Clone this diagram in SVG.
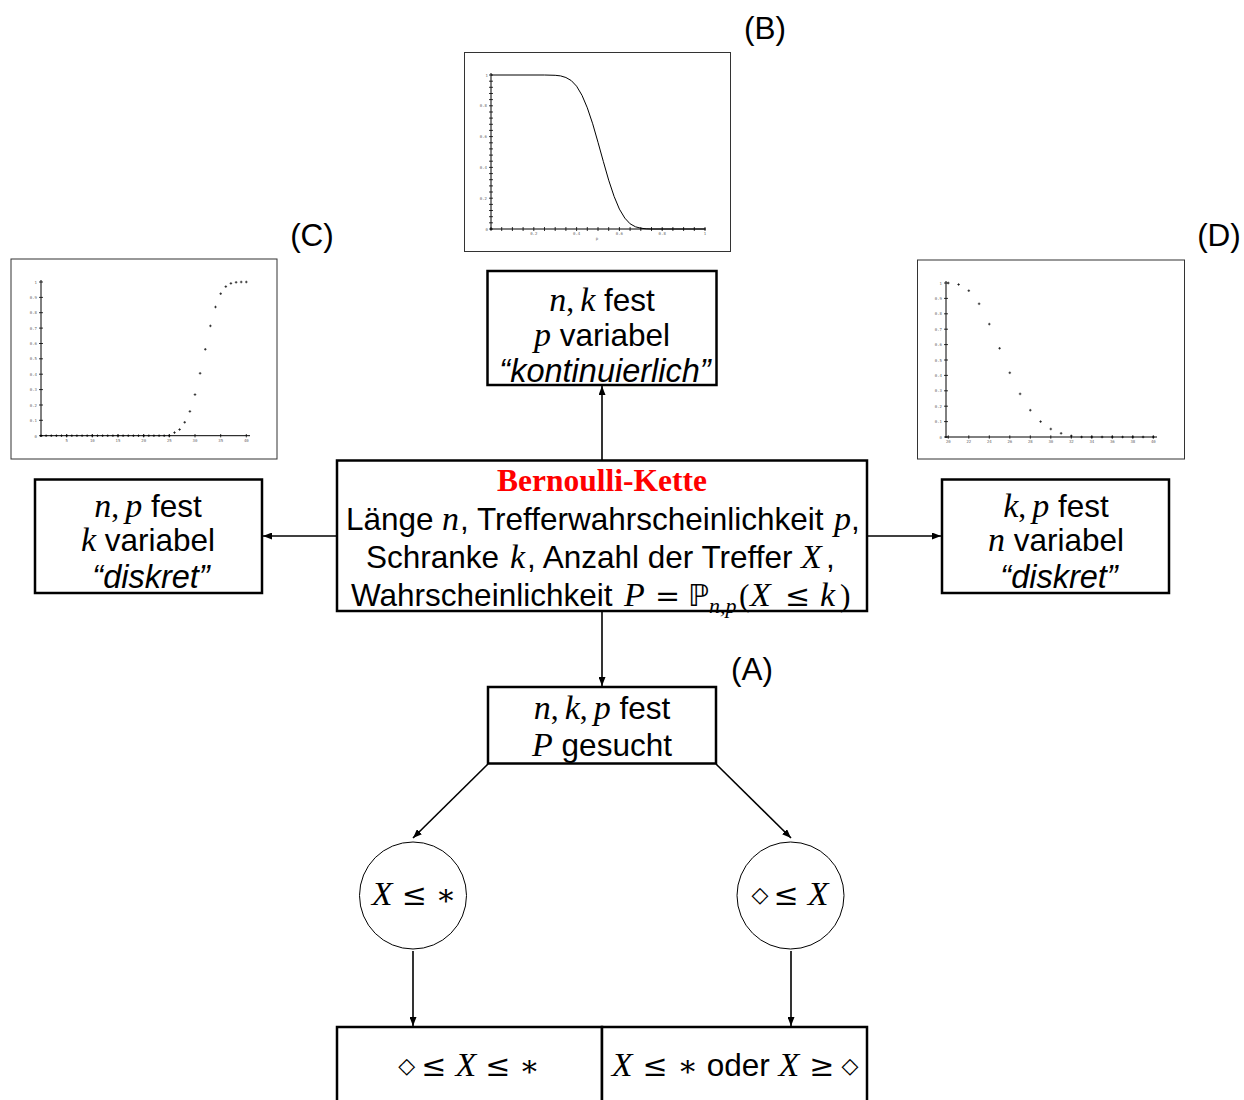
<svg xmlns="http://www.w3.org/2000/svg" xmlns:xlink="http://www.w3.org/1999/xlink" width="1244" height="1100" viewBox="0 0 1244 1100">
<style>
.box{fill:#fff;stroke:#000;stroke-width:2.5}
.circ{fill:#fff;stroke:#000;stroke-width:1}
.t{font-family:"Liberation Sans",Arial,sans-serif;font-size:31.5px;fill:#000;text-anchor:middle}
.s{text-anchor:start}
.m{font-family:"Liberation Serif","Times New Roman",serif;font-style:italic;font-size:34px}
.r{font-family:"Liberation Serif","Times New Roman",serif;font-style:normal}
.sym{font-family:"DejaVu Serif",serif;font-style:normal;font-size:30px}
.dia{font-family:"DejaVu Sans",sans-serif;font-style:normal;font-size:22px}
.bb{font-family:"DejaVu Sans",sans-serif;font-style:normal;font-size:30px}
.sub{font-size:22px}
.it{font-style:italic;font-size:32.5px}
.title{font-family:"Liberation Serif","Times New Roman",serif;font-weight:bold;fill:#f00;font-size:31.5px}
.edge{stroke:#000;stroke-width:1.6;fill:none;marker-end:url(#ah)}
.frame{fill:#fff;stroke:#333;stroke-width:1}
.ax{stroke:#000;stroke-width:1;fill:none}
.tick{stroke:#000;stroke-width:0.8;fill:none}
.lbl{font-family:"DejaVu Sans Mono",monospace;font-size:4px;fill:#666}
.lr{text-anchor:end}
.lc{text-anchor:middle}
</style>
<defs>
<marker id="ah" markerWidth="9" markerHeight="7" refX="9" refY="3.5" orient="auto" markerUnits="userSpaceOnUse">
<path d="M0,0 L9,3.5 L0,7 z" fill="#000"/>
</marker>
<path id="cr" d="M-1.3 0h2.6M0-1.3v2.6" stroke="#000" stroke-width="0.7"/>
</defs>
<rect width="1244" height="1100" fill="#fff"/>

<!-- Plot B -->
<g id="plotB">
<rect class="frame" x="464.5" y="52.5" width="266" height="199"/>
<path class="ax" d="M491 230V73M490 229H706"/>
<path class="tick" d="M489 229h4M489 222.8h4M489 216.7h4M489 210.5h4M489 204.4h4M489 198.2h4M489 192h4M489 185.9h4M489 179.7h4M489 173.6h4M489 167.4h4M489 161.2h4M489 155.1h4M489 148.9h4M489 142.8h4M489 136.6h4M489 130.4h4M489 124.3h4M489 118.1h4M489 112h4M489 105.8h4M489 99.6h4M489 93.5h4M489 87.3h4M489 81.2h4M489 75h4"/>
<path class="tick" d="M491 227v4M501.7 227v4M512.4 227v4M523.1 227v4M533.8 227v4M544.5 227v4M555.2 227v4M565.9 227v4M576.6 227v4M587.3 227v4M598 227v4M608.7 227v4M619.4 227v4M630.1 227v4M640.8 227v4M651.5 227v4M662.2 227v4M672.9 227v4M683.6 227v4M694.3 227v4M705 227v4"/>
<polyline fill="none" stroke="#000" stroke-width="1" stroke-linejoin="round" points="491,75 544.5,75 555.2,75.3 560.6,75.9 565.9,77.5 571.3,80.6 576.6,86.2 582,95.3 587.3,107.8 592.7,123.8 598,142.3 603.4,161.7 608.7,180.2 614.1,196.4 619.4,209.1 624.8,218.1 630.1,223.8 635.5,226.8 640.8,228.2 646.2,228.8 651.5,229 705,229"/>
<g class="lbl lr">
<text x="488" y="76.5">1</text><text x="487" y="107">0.8</text><text x="487" y="138">0.6</text><text x="487" y="168.5">0.4</text><text x="487" y="199.5">0.2</text><text x="488" y="231">0</text>
</g>
<g class="lbl lc">
<text x="533.8" y="235">0.2</text><text x="576.6" y="235">0.4</text><text x="619.4" y="235">0.6</text><text x="662.2" y="235">0.8</text><text x="705" y="235">1</text><text x="597" y="240">p</text>
</g>
</g>
<text class="t" x="765" y="39">(B)</text>

<!-- Plot C -->
<g id="plotC">
<rect class="frame" x="11" y="259" width="266" height="200"/>
<path class="ax" d="M41 437V280M40 435.7H250"/>
<path class="tick" d="M39 435.7h4M39 420.3h4M39 405h4M39 389.6h4M39 374.2h4M39 358.8h4M39 343.5h4M39 328.1h4M39 312.7h4M39 297.4h4M39 282h4"/>
<path class="tick" d="M66.7 434v3.4M92.3 434v3.4M118 434v3.4M143.7 434v3.4M169.3 434v3.4M195 434v3.4M220.7 434v3.4M246.3 434v3.4"/>
<g>
<use href="#cr" x="41" y="435.7"/><use href="#cr" x="46.1" y="435.7"/><use href="#cr" x="51.3" y="435.7"/><use href="#cr" x="56.4" y="435.7"/><use href="#cr" x="61.5" y="435.7"/><use href="#cr" x="66.7" y="435.7"/><use href="#cr" x="71.8" y="435.7"/><use href="#cr" x="76.9" y="435.7"/><use href="#cr" x="82.1" y="435.7"/><use href="#cr" x="87.2" y="435.7"/><use href="#cr" x="92.3" y="435.7"/><use href="#cr" x="97.5" y="435.7"/><use href="#cr" x="102.6" y="435.7"/><use href="#cr" x="107.7" y="435.7"/><use href="#cr" x="112.9" y="435.7"/><use href="#cr" x="118" y="435.7"/><use href="#cr" x="123.1" y="435.7"/><use href="#cr" x="128.3" y="435.7"/><use href="#cr" x="133.4" y="435.7"/><use href="#cr" x="138.5" y="435.7"/><use href="#cr" x="143.7" y="435.7"/><use href="#cr" x="148.8" y="435.7"/><use href="#cr" x="153.9" y="435.7"/><use href="#cr" x="159.1" y="435.7"/><use href="#cr" x="164.2" y="435.7"/><use href="#cr" x="169.3" y="435.7"/>
<use href="#cr" x="174.5" y="432.6"/><use href="#cr" x="179.6" y="429.5"/><use href="#cr" x="184.7" y="422.3"/><use href="#cr" x="189.9" y="411.4"/><use href="#cr" x="195" y="394.6"/><use href="#cr" x="200.1" y="373.3"/><use href="#cr" x="205.3" y="349.3"/><use href="#cr" x="210.4" y="325.9"/><use href="#cr" x="215.5" y="307"/><use href="#cr" x="220.7" y="293.7"/><use href="#cr" x="225.8" y="286.6"/><use href="#cr" x="230.9" y="283.4"/><use href="#cr" x="236.1" y="282.3"/><use href="#cr" x="241.2" y="282"/><use href="#cr" x="246.3" y="282"/>
</g>
<g class="lbl lr">
<text x="37" y="283.5">1</text><text x="37" y="299">0.9</text><text x="37" y="314">0.8</text><text x="37" y="329.5">0.7</text><text x="37" y="345">0.6</text><text x="37" y="360.3">0.5</text><text x="37" y="375.7">0.4</text><text x="37" y="391">0.3</text><text x="37" y="406.5">0.2</text><text x="37" y="421.8">0.1</text><text x="37" y="437.5">0</text>
</g>
<g class="lbl lc">
<text x="66.7" y="442">5</text><text x="92.3" y="442">10</text><text x="118" y="442">15</text><text x="143.7" y="442">20</text><text x="169.3" y="442">25</text><text x="195" y="442">30</text><text x="220.7" y="442">35</text><text x="246.3" y="442">40</text>
</g>
</g>
<text class="t" x="312" y="246">(C)</text>

<!-- Plot D -->
<g id="plotD">
<rect class="frame" x="917.5" y="260" width="267" height="199"/>
<path class="ax" d="M946 438V281M945 437H1157"/>
<path class="tick" d="M944 437h4M944 421.6h4M944 406.2h4M944 390.8h4M944 375.4h4M944 360h4M944 344.6h4M944 329.2h4M944 313.8h4M944 298.4h4M944 283h4"/>
<path class="tick" d="M948.3 435.3v3.4M968.8 435.3v3.4M989.3 435.3v3.4M1009.8 435.3v3.4M1030.3 435.3v3.4M1050.8 435.3v3.4M1071.3 435.3v3.4M1091.8 435.3v3.4M1112.3 435.3v3.4M1132.8 435.3v3.4M1153.3 435.3v3.4"/>
<g>
<use href="#cr" x="948.3" y="283"/><use href="#cr" x="958.6" y="284.5"/><use href="#cr" x="968.8" y="290.7"/><use href="#cr" x="979.1" y="303.8"/><use href="#cr" x="989.3" y="324.1"/><use href="#cr" x="999.6" y="348.3"/><use href="#cr" x="1009.8" y="372.8"/><use href="#cr" x="1020.1" y="393.9"/><use href="#cr" x="1030.3" y="410.2"/><use href="#cr" x="1040.6" y="421.6"/><use href="#cr" x="1050.8" y="429"/><use href="#cr" x="1061.1" y="433.3"/><use href="#cr" x="1071.3" y="435.9"/><use href="#cr" x="1081.6" y="437"/><use href="#cr" x="1091.8" y="437"/><use href="#cr" x="1102.1" y="437"/><use href="#cr" x="1112.3" y="437"/><use href="#cr" x="1122.6" y="437"/><use href="#cr" x="1132.8" y="437"/><use href="#cr" x="1143.1" y="437"/><use href="#cr" x="1153.3" y="437"/>
</g>
<g class="lbl lr">
<text x="942" y="284.5">1</text><text x="942" y="300">0.9</text><text x="942" y="315.3">0.8</text><text x="942" y="330.7">0.7</text><text x="942" y="346">0.6</text><text x="942" y="361.5">0.5</text><text x="942" y="377">0.4</text><text x="942" y="392.3">0.3</text><text x="942" y="407.7">0.2</text><text x="942" y="423">0.1</text><text x="942" y="438.5">0</text>
</g>
<g class="lbl lc">
<text x="948.3" y="443">20</text><text x="968.8" y="443">22</text><text x="989.3" y="443">24</text><text x="1009.8" y="443">26</text><text x="1030.3" y="443">28</text><text x="1050.8" y="443">30</text><text x="1071.3" y="443">32</text><text x="1091.8" y="443">34</text><text x="1112.3" y="443">36</text><text x="1132.8" y="443">38</text><text x="1153.3" y="443">40</text>
</g>
</g>
<text class="t" x="1219" y="246">(D)</text>

<!-- Connectors -->
<g id="connectors">
<line class="edge" x1="602" y1="460" x2="602" y2="386"/>
<line class="edge" x1="337" y1="536" x2="263" y2="536"/>
<line class="edge" x1="867" y1="536" x2="941" y2="536"/>
<line class="edge" x1="602" y1="611" x2="602" y2="686"/>
<line class="edge" x1="488" y1="764" x2="413" y2="838"/>
<line class="edge" x1="716" y1="764" x2="791" y2="838"/>
<line class="edge" x1="413" y1="951" x2="413" y2="1026"/>
<line class="edge" x1="791" y1="951" x2="791" y2="1026"/>
</g>

<!-- Top box -->
<g id="node-top">
<rect class="box" x="487.5" y="271" width="229" height="114"/>
<text class="t" x="602" y="311"><tspan class="m">n</tspan><tspan class="r">,</tspan><tspan class="m" dx="6">k</tspan> fest</text>
<text class="t" x="602" y="346"><tspan class="m">p</tspan> variabel</text>
<text class="t it" x="605" y="382">“kontinuierlich”</text>
</g>

<!-- Center box -->
<g id="node-center">
<rect class="box" x="337" y="460.5" width="530" height="150.5"/>
<text class="t title" x="602" y="491">Bernoulli-Kette</text>
<text class="t s" x="346" y="530">Länge<tspan class="m" x="442">n</tspan><tspan x="460">, Trefferwahrscheinlichkeit</tspan><tspan class="m" x="834">p</tspan><tspan x="851">,</tspan></text>
<text class="t s" x="366" y="568">Schranke<tspan class="m" x="510">k</tspan><tspan x="527">, Anzahl der Treffer</tspan><tspan class="m" x="801">X</tspan><tspan x="826">,</tspan></text>
<text class="t s" x="351" y="606">Wahrscheinlichkeit<tspan class="m" x="624">P</tspan><tspan class="sym" x="655">=</tspan><tspan class="bb" x="688">ℙ</tspan><tspan class="m sub" x="709" dy="7">n,p</tspan><tspan class="r" x="739" dy="-7">(</tspan><tspan class="m" x="750">X</tspan><tspan class="sym" x="785">≤</tspan><tspan class="m" x="820">k</tspan><tspan class="r" x="840">)</tspan></text>
</g>

<!-- Left box -->
<g id="node-left">
<rect class="box" x="35" y="479.5" width="227" height="113.5"/>
<text class="t" x="148" y="517"><tspan class="m">n</tspan><tspan class="r">,</tspan><tspan class="m" dx="6">p</tspan> fest</text>
<text class="t" x="148" y="551"><tspan class="m">k</tspan> variabel</text>
<text class="t it" x="151" y="588">“diskret”</text>
</g>

<!-- Right box -->
<g id="node-right">
<rect class="box" x="942" y="479.5" width="227" height="113.5"/>
<text class="t" x="1056" y="517"><tspan class="m">k</tspan><tspan class="r">,</tspan><tspan class="m" dx="6">p</tspan> fest</text>
<text class="t" x="1056" y="551"><tspan class="m">n</tspan> variabel</text>
<text class="t it" x="1059" y="588">“diskret”</text>
</g>

<!-- A box -->
<g id="node-A">
<rect class="box" x="488" y="687" width="228" height="76.5"/>
<text class="t" x="602" y="719"><tspan class="m">n</tspan><tspan class="r">,</tspan><tspan class="m" dx="6">k</tspan><tspan class="r">,</tspan><tspan class="m" dx="6">p</tspan> fest</text>
<text class="t" x="602" y="756"><tspan class="m">P</tspan> gesucht</text>
</g>
<text class="t" x="752" y="680">(A)</text>

<!-- Circles -->
<g id="node-c1">
<circle class="circ" cx="413" cy="895.5" r="53.5"/>
<text class="t" x="414" y="905"><tspan class="m">X</tspan><tspan class="sym" dx="9">≤</tspan><tspan class="sym" dx="9">∗</tspan></text>
</g>
<g id="node-c2">
<circle class="circ" cx="790.5" cy="895.5" r="53.5"/>
<text class="t" x="790" y="905"><tspan class="dia" dy="-3">◇</tspan><tspan class="sym" dx="5" dy="3">≤</tspan><tspan class="m" dx="9">X</tspan></text>
</g>

<!-- Bottom boxes -->
<g id="node-b1">
<rect class="box" x="337" y="1027" width="265" height="90"/>
<text class="t" x="469" y="1076"><tspan class="dia" dy="-3">◇</tspan><tspan class="sym" dx="6" dy="3">≤</tspan><tspan class="m" dx="9">X</tspan><tspan class="sym" dx="9">≤</tspan><tspan class="sym" dx="9">∗</tspan></text>
</g>
<g id="node-b2">
<rect class="box" x="602" y="1027" width="265" height="90"/>
<text class="t" x="735" y="1076"><tspan class="m">X</tspan><tspan class="sym" dx="10">≤</tspan><tspan class="sym" dx="10">∗</tspan> oder <tspan class="m">X</tspan><tspan class="sym" dx="10">≥</tspan><tspan class="dia" dx="7" dy="-3">◇</tspan></text>
</g>
</svg>
